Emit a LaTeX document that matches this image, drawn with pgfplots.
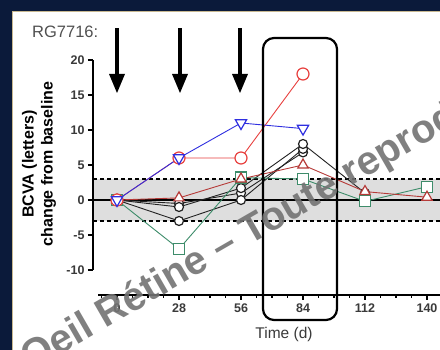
\documentclass[border=0pt]{standalone}
\usepackage{pgfplots}
\pgfplotsset{compat=1.18}
\usepackage{fontspec}
\setmainfont{Liberation Sans}
\definecolor{navy}{HTML}{0B1A3A}
\definecolor{beige}{HTML}{C8B890}
\definecolor{cred}{HTML}{E8413F}
\definecolor{cblue}{HTML}{2F2FE0}
\definecolor{cdred}{HTML}{B63A38}
\definecolor{cgreen}{HTML}{3D8C6A}
\definecolor{cblack}{HTML}{222222}
\definecolor{band}{HTML}{DEDEDE}
\definecolor{lblgray}{HTML}{3A3A3A}
\definecolor{ttlgray}{HTML}{505050}
\definecolor{wmgray}{HTML}{737373}
\begin{document}
\begin{tikzpicture}[x=1pt,y=1pt]
\useasboundingbox (0,0) rectangle (440,350);
\clip (0,0) rectangle (440,350);
\fill[navy] (0,0) rectangle (440,350);
\fill[white] (12,0) rectangle (440,339);
\draw[beige, line width=0.8pt] (12.4,0) -- (12.4,338.6) -- (440,338.6);
\begin{axis}[
  at={(93pt,55pt)}, anchor=south west,
  scale only axis, width=347pt, height=235pt,
  xmin=-10.84, xmax=145.87, ymin=-13.571, ymax=20,
  clip=false,
  axis x line*=bottom, axis y line*=left,
  axis line style={draw=none},
  xtick={0,28,56,84,112,140},
  minor xtick={-7,7,14,21,35,42,49,63,70,77,91,98,105,119,126,133},
  ytick={-10,-5,0,5,10,15,20},
  tick align=outside,
  major tick length=5pt, minor tick length=3pt,
  every tick/.style={black, line width=1.3pt},
  tick label style={font=\bfseries\fontsize{12.5}{13}\selectfont, text=lblgray},
  /pgf/number format/assume math mode=true,
]
% band and reference lines
\fill[band] (axis cs:-10.84,-3) rectangle (axis cs:145.87,3);
\draw[black, line width=1.5pt, dash pattern=on 4pt off 3pt] (axis cs:-10.84,3) -- (axis cs:145.87,3);
\draw[black, line width=1.5pt, dash pattern=on 4pt off 3pt] (axis cs:-10.84,-3) -- (axis cs:145.87,-3);
\draw[black, line width=2pt] (axis cs:-10.84,0) -- (axis cs:145.87,0);
% axis lines
\draw[black, line width=1.4pt] (axis cs:-10.84,-10) -- (axis cs:-10.84,20);
\draw[black, line width=1.4pt] (axis cs:-8.5,-13.571) -- (axis cs:145.87,-13.571);
% series
\addplot[cblack, line width=0.9pt, mark=*, mark size=4.5pt, mark options={fill=white, line width=1.2pt}]
  coordinates {(0,0) (28,-0.5) (56,1) (84,6.8)};
\addplot[cblack, line width=0.9pt, mark=*, mark size=4.5pt, mark options={fill=white, line width=1.2pt}]
  coordinates {(0,0) (28,-3) (56,0) (84,7.3)};
\addplot[cblack, line width=0.9pt, mark=*, mark size=4.5pt, mark options={fill=white, line width=1.2pt}]
  coordinates {(0,0) (28,-1) (56,1.7) (84,8) (112,1)};
\addplot[cgreen, line width=0.9pt, mark=square*, mark size=5.5pt, mark options={fill=white, line width=1.2pt}]
  coordinates {(0,0) (28,-7) (56,3.2) (84,3) (112,-0.2) (140,1.9)};
\addplot[cdred, line width=0.9pt, mark=triangle*, mark size=6pt, mark options={fill=white, line width=1.2pt}]
  coordinates {(0,0) (28,0.3) (56,3) (84,5) (112,1.2) (140,0.4)};
\addplot[cred, line width=0.9pt, mark=*, mark size=6pt, mark options={fill=white, line width=1.2pt}]
  coordinates {(0,0) (28,6) (56,6) (84,18)};
\addplot[cblue, line width=0.9pt, mark=triangle*, mark size=6.5pt, mark options={fill=white, line width=1.2pt, rotate=180}]
  coordinates {(0,0) (28,6) (56,11) (84,10.2)};
\end{axis}
% injection arrows
\foreach \ax in {117,180,240} {
  \fill[black] (\ax-2.2,322) rectangle (\ax+2.2,273);
  \fill[black] (\ax-8,276) -- (\ax+8,276) -- (\ax,257) -- cycle;
}
% rounded highlight box
\draw[black, line width=2.2pt, rounded corners=11pt] (263,312) rectangle (337,30);
% texts
\node[anchor=west, inner sep=0pt, text=ttlgray, font=\fontsize{16.5}{17}\selectfont] at (32,318) {RG7716:};
\node[rotate=90, align=center, inner sep=0pt, text=black, font=\bfseries\fontsize{16}{19}\selectfont] at (39,186) {BCVA (letters)\\change from baseline};
\node[text=lblgray, font=\fontsize{15.5}{16}\selectfont] at (284,16) {Time (d)};
% watermark
\node[rotate=30, anchor=base west, inner sep=0pt, text=wmgray, text opacity=0.9, font=\bfseries\fontsize{40}{40}\selectfont] at (30,-22) {Oeil Rétine – Toute reproduction interdite};
\end{tikzpicture}
\end{document}
